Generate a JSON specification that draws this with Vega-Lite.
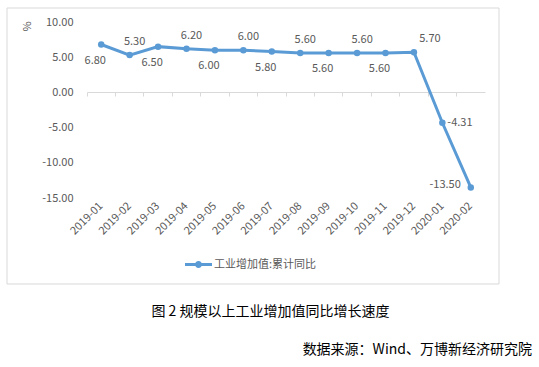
{
  "$schema": "https://vega.github.io/schema/vega-lite/v6.json",
  "width": 398,
  "height": 176,
  "autosize": "none",
  "padding": {"left": 87, "top": 22, "right": 54, "bottom": 169},
  "background": "white",
  "config": {
    "view": {"stroke": null},
    "font": "Noto Sans CJK SC",
    "locale": {"number": {"decimal": ".", "thousands": ",", "grouping": [3], "currency": ["", ""], "minus": "-"}}
  },
  "title": {
    "text": "数据来源：Wind、万博新经济研究院",
    "orient": "bottom",
    "anchor": "end",
    "frame": "group",
    "fontSize": 14,
    "fontWeight": "normal",
    "color": "#000000",
    "offset": 25,
    "dx": 47
  },
  "data": {
    "values": [
      {"date": "2019-01", "value": 6.8, "series": "工业增加值:累计同比"},
      {"date": "2019-02", "value": 5.3, "series": "工业增加值:累计同比"},
      {"date": "2019-03", "value": 6.5, "series": "工业增加值:累计同比"},
      {"date": "2019-04", "value": 6.2, "series": "工业增加值:累计同比"},
      {"date": "2019-05", "value": 6.0, "series": "工业增加值:累计同比"},
      {"date": "2019-06", "value": 6.0, "series": "工业增加值:累计同比"},
      {"date": "2019-07", "value": 5.8, "series": "工业增加值:累计同比"},
      {"date": "2019-08", "value": 5.6, "series": "工业增加值:累计同比"},
      {"date": "2019-09", "value": 5.6, "series": "工业增加值:累计同比"},
      {"date": "2019-10", "value": 5.6, "series": "工业增加值:累计同比"},
      {"date": "2019-11", "value": 5.6, "series": "工业增加值:累计同比"},
      {"date": "2019-12", "value": 5.7, "series": "工业增加值:累计同比"},
      {"date": "2020-01", "value": -4.31, "series": "工业增加值:累计同比"},
      {"date": "2020-02", "value": -13.5, "series": "工业增加值:累计同比"}
    ]
  },
  "layer": [
    {
      "data": {"values": [{}]},
      "mark": {"type": "rect", "fill": "transparent", "stroke": "#d9d9d9", "strokeWidth": 1},
      "encoding": {
        "x": {"datum": -0.201, "type": "quantitative", "scale": {"domain": [0, 1], "nice": false, "zero": false}, "axis": null},
        "x2": {"datum": 1.0352},
        "y": {"datum": -0.4886, "type": "quantitative", "scale": {"domain": [0, 1], "nice": false, "zero": false}, "axis": null},
        "y2": {"datum": 1.0795}
      }
    },
    {
      "encoding": {
        "x": {
          "field": "date",
          "type": "ordinal",
          "bandPosition": 0.5,
          "scale": {"type": "band", "paddingInner": 0, "paddingOuter": 0},
          "axis": {
            "offset": -106,
            "grid": false,
            "domainColor": "#d9d9d9",
            "tickColor": "#d9d9d9",
            "tickSize": 4,
            "bandPosition": 0,
            "labelAngle": -45,
            "labelAlign": "right",
            "labelBaseline": "middle",
            "labelPadding": 108,
            "labelFontSize": 11,
            "labelColor": "#595959",
            "labelOverlap": false,
            "title": "图 2 规模以上工业增加值同比增长速度",
            "titleX": 183,
            "titleY": 219,
            "titleAlign": "center",
            "titleBaseline": "middle",
            "titleAngle": 0,
            "titleFontSize": 14,
            "titleFontWeight": "normal",
            "titleColor": "#000000"
          }
        },
        "y": {
          "field": "value",
          "type": "quantitative",
          "scale": {"domain": [-15, 10], "nice": false, "zero": false},
          "axis": {
            "values": [-15, -10, -5, 0, 5, 10],
            "format": ".2f",
            "domain": false,
            "ticks": false,
            "labelPadding": 14,
            "labelFontSize": 11,
            "labelColor": "#595959",
            "gridColor": "#d9d9d9",
            "title": "%",
            "titleX": -60,
            "titleY": 4,
            "titleAlign": "center",
            "titleBaseline": "middle",
            "titleFontSize": 11,
            "titleFontWeight": "normal",
            "titleColor": "#595959"
          }
        }
      },
      "layer": [
        {
          "mark": {"type": "line", "color": "#5B9BD5", "strokeWidth": 3}
        },
        {
          "mark": {"type": "point", "filled": true, "size": 42, "opacity": 1},
          "encoding": {
            "color": {
              "field": "series",
              "type": "nominal",
              "scale": {"range": ["#5B9BD5"]},
              "legend": {
                "orient": "none",
                "legendX": 98,
                "legendY": 229,
                "title": null,
                "symbolType": "M-1,-0.11H1V0.11H-1Z M-0.26,0A0.26,0.26 0 1,1 0.26,0A0.26,0.26 0 1,1 -0.26,0Z",
                "symbolSize": 729,
                "symbolStrokeWidth": 0,
                "symbolFillColor": "#5B9BD5",
                "labelFontSize": 11,
                "labelColor": "#595959",
                "labelOffset": 2
              }
            }
          }
        },
        {
          "transform": [{"filter": {"field": "date", "oneOf": ["2019-02", "2019-04", "2019-06", "2019-08", "2019-10"]}}],
          "mark": {"type": "text", "dx": 5, "dy": -13, "fontSize": 11, "color": "#595959"},
          "encoding": {"text": {"field": "value", "type": "quantitative", "format": ".2f"}}
        },
        {
          "transform": [{"filter": {"field": "date", "equal": "2019-12"}}],
          "mark": {"type": "text", "dx": 16, "dy": -13, "fontSize": 11, "color": "#595959"},
          "encoding": {"text": {"field": "value", "type": "quantitative", "format": ".2f"}}
        },
        {
          "transform": [{"filter": {"field": "date", "oneOf": ["2019-01", "2019-03", "2019-05", "2019-07", "2019-09", "2019-11"]}}],
          "mark": {"type": "text", "dx": -6, "dy": 16, "fontSize": 11, "color": "#595959"},
          "encoding": {"text": {"field": "value", "type": "quantitative", "format": ".2f"}}
        },
        {
          "transform": [{"filter": {"field": "date", "equal": "2020-01"}}],
          "mark": {"type": "text", "align": "left", "dx": 5, "dy": 0, "fontSize": 11, "color": "#595959"},
          "encoding": {"text": {"field": "value", "type": "quantitative", "format": ".2f"}}
        },
        {
          "transform": [{"filter": {"field": "date", "equal": "2020-02"}}],
          "mark": {"type": "text", "align": "right", "dx": -10, "dy": -2, "fontSize": 11, "color": "#595959"},
          "encoding": {"text": {"field": "value", "type": "quantitative", "format": ".2f"}}
        }
      ]
    }
  ],
  "resolve": {"scale": {"x": "independent", "y": "independent"}}
}
